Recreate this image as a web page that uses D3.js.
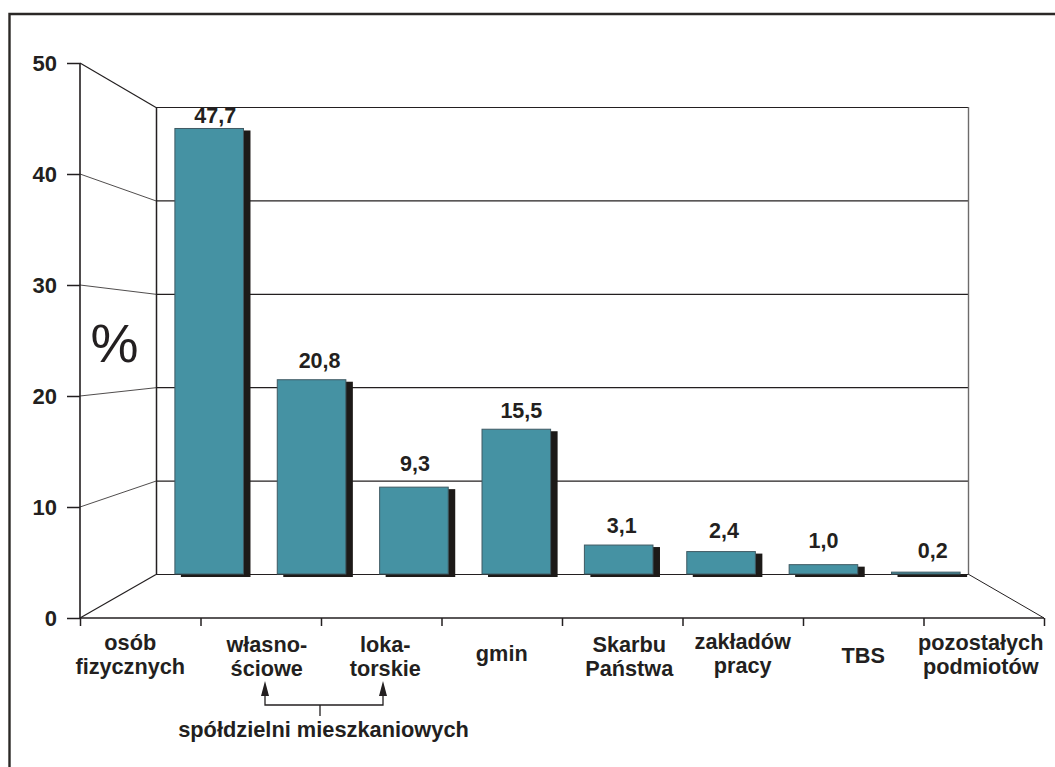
<!DOCTYPE html>
<html>
<head>
<meta charset="utf-8">
<script src="https://cdn.jsdelivr.net/npm/d3@7"></script>
<style>
  html, body { margin: 0; padding: 0; background: #fff; }
  svg { display: block; }
  text { font-family: "Liberation Sans", Arial, sans-serif; font-weight: bold; fill: #231f20; }
</style>
</head>
<body>
<div id="hook"></div>
<script>
// Data
var categories = ["osób fizycznych", "własno- ściowe", "loka- torskie", "gmin", "Skarbu Państwa", "zakładów pracy", "TBS", "pozostałych podmiotów"];
var values = [47.7, 20.8, 9.3, 15.5, 3.1, 2.4, 1.0, 0.2];
var valueLabels = ["47,7", "20,8", "9,3", "15,5", "3,1", "2,4", "1,0", "0,2"];
var yTicks = [0, 10, 20, 30, 40, 50];

var ink = "#231f20", teal = "#4592a3";

var svg = d3.select("#hook").append("svg")
    .attr("width", 1055)
    .attr("height", 767);

// outer frame, open at the right and the bottom like in the scan
svg.append("path")
    .attr("d", "M1055,14H9.5V767")
    .attr("fill", "none")
    .attr("stroke", "#2b2826")
    .attr("stroke-width", 2.4);

// front edge of the floor and back wall have their own scales
var yFront = d3.scaleLinear().domain([0, 50]).range([618, 63]);
var yBack = d3.scaleLinear().domain([0, 50]).range([574, 107]);
var xFront = d3.scaleLinear().domain([0, categories.length]).range([80, 1044]);
var xBack = d3.scaleBand().domain(categories).range([158, 977]).paddingInner(0.33).paddingOuter(0.165);
var backLeft = 156, backRight = 968;

// back wall
svg.selectAll("line.grid")
    .data(yTicks)
    .enter()
        .append("line")
            .attr("class", "grid")
            .attr("x1", backLeft)
            .attr("x2", backRight)
            .attr("y1", function(d) { return yBack(d) + 0.5 })
            .attr("y2", function(d) { return yBack(d) + 0.5 })
            .attr("stroke", ink)
            .attr("stroke-width", 1.2);

svg.selectAll("line.side")
    .data(yTicks)
    .enter()
        .append("line")
            .attr("class", "side")
            .attr("x1", xFront(0))
            .attr("x2", backLeft)
            .attr("y1", function(d) { return yFront(d) })
            .attr("y2", function(d) { return yBack(d) + 0.5 })
            .attr("stroke", ink)
            .attr("stroke-width", function(d) { return (d == 0 || d == 50) ? 1.2 : 0.8 });

svg.append("line")
    .attr("x1", backLeft + 0.5).attr("x2", backLeft + 0.5)
    .attr("y1", yBack(50)).attr("y2", yBack(0))
    .attr("stroke", ink).attr("stroke-width", 1.5);

svg.append("line")
    .attr("x1", backRight + 0.5).attr("x2", backRight + 0.5)
    .attr("y1", yBack(50)).attr("y2", yBack(0))
    .attr("stroke", "#6d6b6b").attr("stroke-width", 1.4);

// right floor edge
svg.append("line")
    .attr("x1", backRight).attr("y1", yBack(0))
    .attr("x2", xFront(categories.length)).attr("y2", yFront(0))
    .attr("stroke", ink).attr("stroke-width", 1);

// axes
var yAxis = svg.append("g")
    .attr("transform", "translate(" + xFront(0) + ",0)")
    .call(d3.axisLeft(yFront).tickValues(yTicks).tickSize(13).tickPadding(10));
var xAxis = svg.append("g")
    .attr("transform", "translate(0," + yFront(0) + ")")
    .call(d3.axisBottom(xFront).tickValues(d3.range(categories.length + 1)).tickSize(8).tickFormat(""));
yAxis.select(".domain").attr("d", "M0," + yFront(50) + "V" + yFront(0));
xAxis.select(".domain").attr("d", "M" + xFront(0) + ",0H" + xFront(categories.length));
svg.selectAll(".domain").attr("stroke", ink).attr("stroke-width", 1.6);
svg.selectAll(".tick line").attr("stroke", ink).attr("stroke-width", 1.5);
yAxis.selectAll("text")
    .style("font-family", '"Liberation Sans", Arial, sans-serif')
    .style("font-weight", "bold")
    .style("font-size", "22px")
    .attr("fill", ink);

// shadows, then bars
function barHeight(d) { return yBack(0) - yBack(d) }

svg.selectAll("rect.shadow")
    .data(values)
    .enter()
        .append("rect")
            .attr("class", "shadow")
            .attr("x", function(d, i) { return xBack(categories[i]) + 6 })
            .attr("y", function(d) { return yBack(d) + 2 })
            .attr("width", xBack.bandwidth() + 1)
            .attr("height", function(d) { return barHeight(d) + 1 })
            .attr("fill", "#1d1a18");

svg.selectAll("rect.bar")
    .data(values)
    .enter()
        .append("rect")
            .attr("class", "bar")
            .attr("x", function(d, i) { return xBack(categories[i]) })
            .attr("y", function(d) { return yBack(d) })
            .attr("width", xBack.bandwidth())
            .attr("height", barHeight)
            .attr("fill", teal)
            .attr("stroke", "#3f5a63")
            .attr("stroke-width", 1);

// value labels sit loosely above the bars in the original
var valueDx = [6, 8, 1, 5, 3, 3, 0, 7];
var valueGap = [5, 12, 16, 11, 12, 14, 17, 14];
svg.selectAll("text.value")
    .data(values)
    .enter()
        .append("text")
            .attr("class", "value")
            .attr("x", function(d, i) { return xBack(categories[i]) + xBack.bandwidth() / 2 + valueDx[i] })
            .attr("y", function(d, i) { return yBack(d) - valueGap[i] })
            .attr("text-anchor", "middle")
            .style("font-size", "21.5px")
            .text(function(d, i) { return valueLabels[i] });

// category labels, hand placed around the middle of each tick interval
var nudgeX = [-10, 6, 4, 0, 7, 0, 0, -3];
var firstLine = [650, 652, 652, 661, 652, 649, 663, 650];
svg.selectAll("text.cat")
    .data(categories)
    .enter()
        .append("text")
            .attr("class", "cat")
            .attr("text-anchor", "middle")
            .style("font-size", "21.7px")
            .each(function(d, i) {
                var x = xFront(i + 0.5) + nudgeX[i];
                d3.select(this).selectAll("tspan")
                    .data(d.split(" "))
                    .enter()
                        .append("tspan")
                            .attr("x", x)
                            .attr("y", function(w, j) { return firstLine[i] + j * 24 })
                            .text(function(w) { return w });
            });

// bracket for the two cooperative categories
var bracketY = 705;
var bx1 = 265, bx2 = 383;
svg.append("path")
    .attr("d", "M" + bx1 + ",692V" + bracketY + "H" + bx2 + "V692M320," + bracketY + "V716")
    .attr("fill", "none")
    .attr("stroke", ink)
    .attr("stroke-width", 1.3);
[bx1, bx2].forEach(function(x) {
    svg.append("path")
        .attr("d", "M" + x + ",681L" + (x + 4) + ",696H" + (x - 4) + "Z")
        .attr("fill", ink);
});
svg.append("text")
    .attr("x", 323.5)
    .attr("y", 737)
    .attr("text-anchor", "middle")
    .style("font-size", "21.8px")
    .text("spółdzielni mieszkaniowych");

// unit
svg.append("text")
    .attr("x", 114.5)
    .attr("y", 362)
    .attr("text-anchor", "middle")
    .style("font-size", "54px")
    .style("font-weight", "normal")
    .text("%");
</script>
</body>
</html>
